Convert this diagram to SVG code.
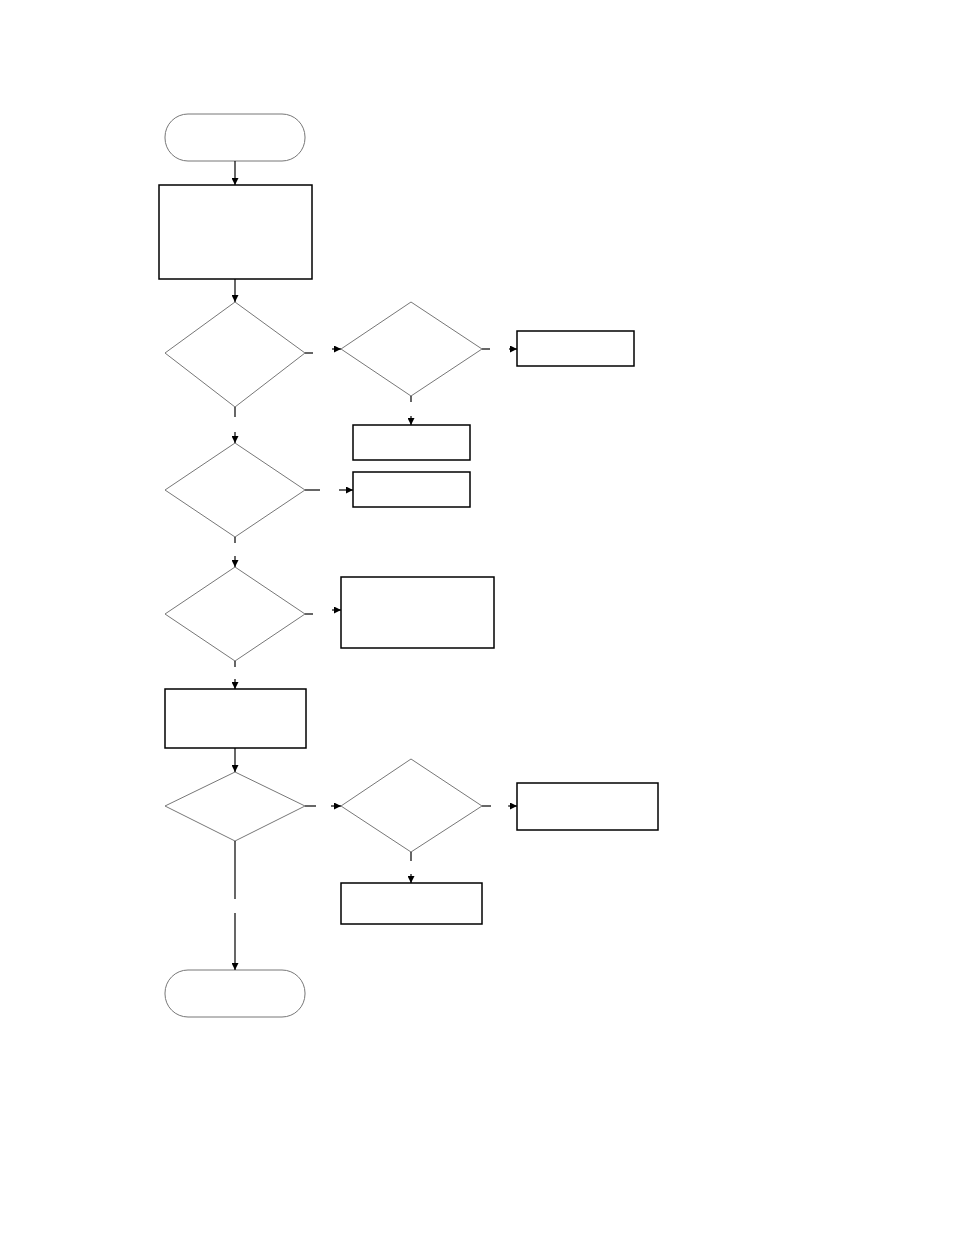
<svg xmlns="http://www.w3.org/2000/svg" width="954" height="1235" viewBox="0 0 954 1235">
<style>
.t{fill:#fff;stroke:#777;stroke-width:1}
.d{fill:#fff;stroke:#777;stroke-width:1}
.b{fill:#fff;stroke:#000;stroke-width:1.5}
.c{stroke:#000;stroke-width:1.2;fill:none}
</style>
<defs><marker id="a" viewBox="0 0 10 10" refX="10" refY="5" markerWidth="7" markerHeight="7" markerUnits="userSpaceOnUse" orient="auto"><path d="M0,0L10,5L0,10z" fill="#000"/></marker></defs>
<rect width="954" height="1235" fill="#fff"/>
<g id="start"><rect class="t" x="165" y="114" width="140" height="47" rx="23"/></g>
<g id="p1"><rect class="b" x="159" y="185" width="153" height="94"/></g>
<g id="d1"><polygon class="d" points="235,302 305,353 235,407 165,353"/></g>
<g id="d2"><polygon class="d" points="411,302 482,349 411,396 341,349"/></g>
<g id="bA"><rect class="b" x="517" y="331" width="117" height="35"/></g>
<g id="bB"><rect class="b" x="353" y="425" width="117" height="35"/></g>
<g id="d3"><polygon class="d" points="235,443 305,490 235,537 165,490"/></g>
<g id="bC"><rect class="b" x="353" y="472" width="117" height="35"/></g>
<g id="d4"><polygon class="d" points="235,567 305,614 235,661 165,614"/></g>
<g id="bD"><rect class="b" x="341" y="577" width="153" height="71"/></g>
<g id="bE"><rect class="b" x="165" y="689" width="141" height="59"/></g>
<g id="d5"><polygon class="d" points="235,772 305,806 235,841 165,806"/></g>
<g id="d6"><polygon class="d" points="411,759 482,806 411,852 341,806"/></g>
<g id="bF"><rect class="b" x="517" y="783" width="141" height="47"/></g>
<g id="bG"><rect class="b" x="341" y="883" width="141" height="41"/></g>
<g id="end"><rect class="t" x="165" y="970" width="140" height="47" rx="23"/></g>
<g id="connectors">
<path class="c" d="M235,161V185" marker-end="url(#a)"/>
<path class="c" d="M235,279V302" marker-end="url(#a)"/>
<path class="c" d="M305,353H313"/><path class="c" d="M332,349H341" marker-end="url(#a)"/>
<path class="c" d="M482,349H490"/><path class="c" d="M509,349H517" marker-end="url(#a)"/>
<path class="c" d="M411,396V402"/><path class="c" d="M411,416V425" marker-end="url(#a)"/>
<path class="c" d="M235,407V417"/><path class="c" d="M235,432V443" marker-end="url(#a)"/>
<path class="c" d="M305,490H320"/><path class="c" d="M339,490H353" marker-end="url(#a)"/>
<path class="c" d="M235,537V543"/><path class="c" d="M235,556V567" marker-end="url(#a)"/>
<path class="c" d="M305,614H313"/><path class="c" d="M332,610H341" marker-end="url(#a)"/>
<path class="c" d="M235,661V667"/><path class="c" d="M235,679V689" marker-end="url(#a)"/>
<path class="c" d="M235,748V772" marker-end="url(#a)"/>
<path class="c" d="M305,806H316"/><path class="c" d="M331,806H341" marker-end="url(#a)"/>
<path class="c" d="M482,806H491"/><path class="c" d="M508,806H517" marker-end="url(#a)"/>
<path class="c" d="M411,852V861"/><path class="c" d="M411,874V883" marker-end="url(#a)"/>
<path class="c" d="M235,841V899"/><path class="c" d="M235,913V970" marker-end="url(#a)"/>
</g>
</svg>
